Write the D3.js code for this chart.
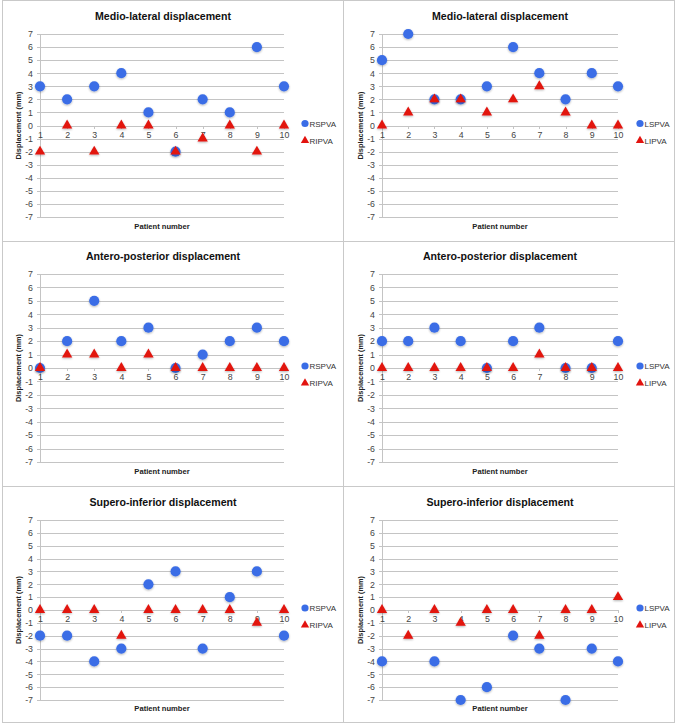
<!DOCTYPE html>
<html><head><meta charset="utf-8">
<script src="https://cdnjs.cloudflare.com/ajax/libs/d3/7.8.5/d3.min.js"></script>
<style>
html,body{margin:0;padding:0;background:#fff;}
svg{display:block;font-family:"Liberation Sans",Arial,sans-serif;}
</style></head>
<body>
<svg id="c" width="677" height="725"></svg>
<script>
// ---- data ----
const patients = [1, 2, 3, 4, 5, 6, 7, 8, 9, 10];
const yTickLabels = [-7, -6, -5, -4, -3, -2, -1, 0, 1, 2, 3, 4, 5, 6, 7];
const panelTitles = ["Medio-lateral displacement", "Medio-lateral displacement",
  "Antero-posterior displacement", "Antero-posterior displacement",
  "Supero-inferior displacement", "Supero-inferior displacement"];
const seriesNamesRight = ["RSPVA", "RIPVA"];
const seriesNamesLeft = ["LSPVA", "LIPVA"];

const mlRSPVA = [3, 2, 3, 4, 1, -2, 2, 1, 6, 3];
const mlRIPVA = [-2, 0, -2, 0, 0, -2, -1, 0, -2, 0];
const mlLSPVA = [5, 7, 2, 2, 3, 6, 4, 2, 4, 3];
const mlLIPVA = [0, 1, 2, 2, 1, 2, 3, 1, 0, 0];
const apRSPVA = [0, 2, 5, 2, 3, 0, 1, 2, 3, 2];
const apRIPVA = [0, 1, 1, 0, 1, 0, 0, 0, 0, 0];
const apLSPVA = [2, 2, 3, 2, 0, 2, 3, 0, 0, 2];
const apLIPVA = [0, 0, 0, 0, 0, 0, 1, 0, 0, 0];
const siRSPVA = [-2, -2, -4, -3, 2, 3, -3, 1, 3, -2];
const siRIPVA = [0, 0, 0, -2, 0, 0, 0, 0, -1, 0];
const siLSPVA = [-4, null, -4, -7, -6, -2, -3, -7, -3, -4];
const siLIPVA = [0, -2, 0, -1, 0, 0, -2, 0, 0, 1];

// ---- layout ----
const BLUE = "#3a6de6", RED = "#e2130f", GRID = "#c4c4c4", FRAME = "#c9c9c9";
const cols = [{x0: 40, x1: 284, lx: 305, tx: 163}, {x0: 382, x1: 618, lx: 640, tx: 500}];
const rows = [{y7: 34, ym7: 217, ty: 20, xl: 229}, {y7: 274, ym7: 462, ty: 260, xl: 474}, {y7: 520, ym7: 700, ty: 506, xl: 711}];

const panels = [
  {r: 0, c: 0, names: seriesNamesRight, s: [mlRSPVA, mlRIPVA]},
  {r: 0, c: 1, names: seriesNamesLeft, s: [mlLSPVA, mlLIPVA]},
  {r: 1, c: 0, names: seriesNamesRight, s: [apRSPVA, apRIPVA]},
  {r: 1, c: 1, names: seriesNamesLeft, s: [apLSPVA, apLIPVA]},
  {r: 2, c: 0, names: seriesNamesRight, s: [siRSPVA, siRIPVA]},
  {r: 2, c: 1, names: seriesNamesLeft, s: [siLSPVA, siLIPVA]},
];

const svg = d3.select("#c");
const defs = svg.append("defs");
const f = defs.append("filter").attr("id", "glow").attr("x", "-50%").attr("y", "-50%").attr("width", "200%").attr("height", "200%");
f.append("feGaussianBlur").attr("in", "SourceAlpha").attr("stdDeviation", 1.3).attr("result", "b");
f.append("feOffset").attr("in", "b").attr("dx", 0).attr("dy", 0.8).attr("result", "o");
f.append("feComponentTransfer").attr("in", "o").attr("result", "s").append("feFuncA").attr("type", "linear").attr("slope", 0.3);
const fm = f.append("feMerge");
fm.append("feMergeNode").attr("in", "s");
fm.append("feMergeNode").attr("in", "SourceGraphic");

// frames
svg.append("rect").attr("x", 2.5).attr("y", 0.5).attr("width", 672).attr("height", 722)
  .attr("fill", "none").attr("stroke", FRAME);
svg.append("line").attr("x1", 343.5).attr("x2", 343.5).attr("y1", 0).attr("y2", 723).attr("stroke", FRAME);
[241.5, 486.5].forEach(y => svg.append("line").attr("x1", 2).attr("x2", 675).attr("y1", y).attr("y2", y).attr("stroke", FRAME));

const tri = d3.symbol().type(d3.symbolTriangle).size(46);
const triLeg = d3.symbol().type(d3.symbolTriangle).size(30);

panels.forEach((p, i) => {
  const C = cols[p.c], R = rows[p.r];
  const x = d3.scaleLinear().domain([1, 10]).range([C.x0, C.x1]);
  const y = d3.scaleLinear().domain([-7, 7]).range([R.ym7, R.y7]);
  const g = svg.append("g");

  // gridlines
  const grid = g.append("g").attr("transform", `translate(${C.x0},0)`)
    .call(d3.axisLeft(y).tickValues(yTickLabels).tickSize(-(C.x1 - C.x0)).tickFormat(""));
  grid.select(".domain").remove();
  grid.selectAll("line").attr("stroke", GRID).attr("shape-rendering", "crispEdges");

  // y axis
  const ya = g.append("g").attr("transform", `translate(${C.x0},0)`)
    .call(d3.axisLeft(y).tickValues(yTickLabels).tickSize(3).tickPadding(4).tickFormat(d3.format("d")));
  ya.select(".domain").attr("stroke", GRID).attr("shape-rendering", "crispEdges");
  ya.selectAll("line").attr("stroke", GRID).attr("shape-rendering", "crispEdges");
  ya.selectAll("text").attr("font-size", 8.8).attr("fill", "#444").text(d => d < 0 ? "-" + Math.abs(d) : d);

  // x axis at zero
  const xa = g.append("g").attr("transform", `translate(0,${y(0)})`)
    .call(d3.axisBottom(x).tickValues(patients).tickSize(3).tickPadding(3).tickFormat(d3.format("d")));
  xa.select(".domain").attr("stroke", GRID).attr("shape-rendering", "crispEdges");
  xa.selectAll("line").attr("stroke", GRID).attr("shape-rendering", "crispEdges");
  xa.selectAll("text").attr("font-size", 8.8).attr("fill", "#444");

  // title
  g.append("text").attr("x", C.tx).attr("y", R.ty).attr("text-anchor", "middle")
    .attr("font-size", 10.6).attr("font-weight", "bold").attr("fill", "#111").text(panelTitles[i]);
  // x title
  g.append("text").attr("x", (C.x0 + C.x1) / 2).attr("y", R.xl).attr("text-anchor", "middle")
    .attr("font-size", 7.6).attr("font-weight", "bold").attr("fill", "#222").text("Patient number");
  // y title
  g.append("text").attr("transform", `translate(${C.x0 - 19},${(R.y7 + R.ym7) / 2}) rotate(-90)`)
    .attr("text-anchor", "middle").attr("font-size", 7.4).attr("font-weight", "bold").attr("fill", "#222")
    .text("Displacement (mm)");

  // series 1: circles
  g.append("g").selectAll("circle").data(patients.map((d, k) => ({p: d, v: p.s[0][k]})).filter(d => d.v !== null))
    .join("circle").attr("cx", d => x(d.p)).attr("cy", d => y(d.v)).attr("r", 5.1)
    .attr("fill", BLUE).attr("filter", "url(#glow)");
  // series 2: triangles
  g.append("g").selectAll("path").data(patients.map((d, k) => ({p: d, v: p.s[1][k]})).filter(d => d.v !== null))
    .join("path").attr("d", tri).attr("transform", d => `translate(${x(d.p)},${y(d.v)})`)
    .attr("fill", RED).attr("filter", "url(#glow)");

  // legend
  const ly1 = y(0) - 2, ly2 = y(0) + 15;
  g.append("circle").attr("cx", C.lx).attr("cy", ly1).attr("r", 3.6).attr("fill", BLUE);
  g.append("path").attr("d", triLeg).attr("transform", `translate(${C.lx},${ly2})`).attr("fill", RED);
  g.append("text").attr("x", C.lx + 4.5).attr("y", ly1 + 3).attr("font-size", 8).attr("fill", "#333").text(p.names[0]);
  g.append("text").attr("x", C.lx + 4.5).attr("y", ly2 + 3).attr("font-size", 8).attr("fill", "#333").text(p.names[1]);
});
</script>
</body></html>
